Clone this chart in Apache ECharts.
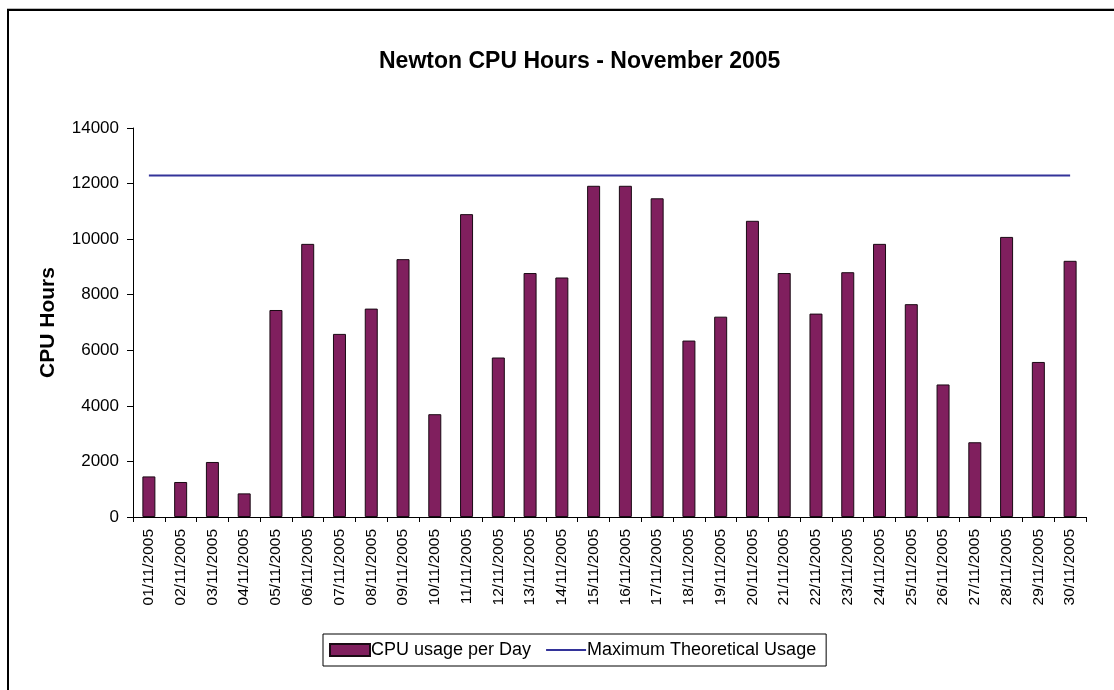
<!DOCTYPE html>
<html>
<head>
<meta charset="utf-8">
<title>Newton CPU Hours - November 2005</title>
<script src="https://cdn.jsdelivr.net/npm/echarts@6/dist/echarts.min.js"></script>
<style>
  html, body { margin: 0; padding: 0; background: #fff; }
  #frame {
    position: absolute; left: 7px; top: 9px; width: 1120px; height: 700px;
    border-left: 2px solid #000; border-top: 2px solid #000;
    box-shadow: 0 -1px 0 #bbb;
  }
  #chart { position: absolute; left: 0; top: 0; width: 1114px; height: 690px; }
</style>
</head>
<body>
<div id="frame"></div>
<div id="chart"></div>
<script>
// 日期 (x 軸)
const days = [
  '01/11/2005', '02/11/2005', '03/11/2005', '04/11/2005', '05/11/2005',
  '06/11/2005', '07/11/2005', '08/11/2005', '09/11/2005', '10/11/2005',
  '11/11/2005', '12/11/2005', '13/11/2005', '14/11/2005', '15/11/2005',
  '16/11/2005', '17/11/2005', '18/11/2005', '19/11/2005', '20/11/2005',
  '21/11/2005', '22/11/2005', '23/11/2005', '24/11/2005', '25/11/2005',
  '26/11/2005', '27/11/2005', '28/11/2005', '29/11/2005', '30/11/2005'
]

// 每日 CPU 使用時數
const cpuUsage = [
  1460, 1260, 1980, 850, 7450,
  9830, 6590, 7500, 9280, 3700,
  10900, 5740, 8780, 8620, 11920,
  11920, 11470, 6350, 7210, 10660,
  8780, 7320, 8810, 9830, 7660,
  4770, 2690, 10080, 5580, 9220
]

// 理論最大使用量
const maxUsage = [
  12288, 12288, 12288, 12288, 12288,
  12288, 12288, 12288, 12288, 12288,
  12288, 12288, 12288, 12288, 12288,
  12288, 12288, 12288, 12288, 12288,
  12288, 12288, 12288, 12288, 12288,
  12288, 12288, 12288, 12288, 12288
]

const fontFamily = '"Liberation Sans", Arial, sans-serif'
const chart = echarts.init(document.getElementById('chart'))

chart.setOption({
  animation: false,
  textStyle: { fontFamily, color: '#000' },
  title: {
    text: 'Newton CPU Hours - November 2005',
    left: 374,
    top: 45,
    textStyle: { fontSize: 23, fontWeight: 'bold', color: '#000', fontFamily }
  },
  legend: {
    left: 323,
    top: 634,
    data: [
      { name: 'CPU usage per Day', icon: 'rect' },
      { name: 'Maximum Theoretical Usage', itemStyle: { opacity: 0 } }
    ],
    itemWidth: 40,
    itemHeight: 12,
    itemGap: 14,
    padding: [7, 10, 7, 6],
    borderColor: '#000',
    borderWidth: 1,
    textStyle: { fontSize: 18, color: '#000', fontFamily, padding: [0, 0, 0, -4] }
  },
  grid: {
    left: 133,
    right: 28,
    top: 128,
    bottom: 173,
    containLabel: false
  },
  xAxis: {
    type: 'category',
    data: days,
    boundaryGap: true,
    axisLine: { lineStyle: { color: '#000', width: 1 } },
    axisTick: { show: true, length: 5, lineStyle: { color: '#000' } },
    axisLabel: {
      rotate: 90,
      interval: 0,
      margin: 12,
      fontSize: 15.5,
      color: '#000',
      fontFamily
    }
  },
  yAxis: {
    type: 'value',
    min: 0,
    max: 14000,
    interval: 2000,
    name: 'CPU Hours',
    nameLocation: 'middle',
    nameGap: 74,
    nameTextStyle: { fontSize: 21, fontWeight: 'bold', color: '#000', fontFamily },
    axisLine: { show: true, lineStyle: { color: '#000', width: 1 } },
    axisTick: { show: true, length: 6, lineStyle: { color: '#000' } },
    axisLabel: {
      fontSize: 17,
      color: '#000',
      margin: 14,
      fontFamily,
      formatter: (v) => String(v)
    },
    splitLine: { show: false }
  },
  series: [
    {
      name: 'CPU usage per Day',
      type: 'bar',
      data: cpuUsage,
      barWidth: 13,
      itemStyle: { color: '#801f5e', borderColor: '#1a0a14', borderWidth: 1 }
    },
    {
      name: 'Maximum Theoretical Usage',
      type: 'line',
      data: maxUsage,
      symbol: 'none',
      lineStyle: { color: '#333399', width: 2 },
      itemStyle: { color: '#333399' }
    }
  ]
})
</script>
</body>
</html>
